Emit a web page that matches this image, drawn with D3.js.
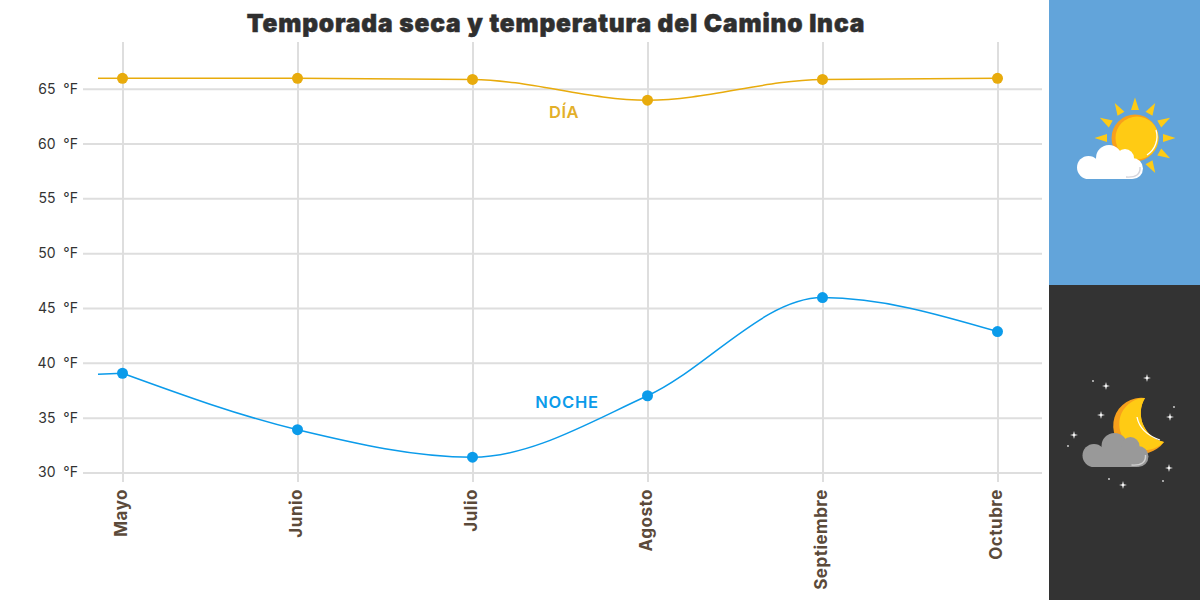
<!DOCTYPE html>
<html>
<head>
<meta charset="utf-8">
<script src="https://cdn.jsdelivr.net/npm/d3@7"></script>
<style>
  html, body { margin: 0; padding: 0; background: #fff; }
  svg { display: block; }
  text { font-family: Inter, "Open Sans", sans-serif; }
  .grid line { stroke: #dedede; stroke-width: 2; }
  .grid .domain { display: none; }
  .y-axis text { font-size: 14px; font-weight: 400; fill: #333; }
  .x-axis text { font-size: 17px; font-weight: 700; fill: #5b4a3a; letter-spacing: 0.5px; }
</style>
</head>
<body>
<svg width="1200" height="600"></svg>
<script>
const months = ['Mayo', 'Junio', 'Julio', 'Agosto', 'Septiembre', 'Octubre'];
const dayValues = [65.95, 65.95, 65.85, 63.95, 65.85, 65.95];
const nightValues = [39.05, 33.9, 31.4, 37, 45.95, 42.85];
// the lines start a little to the left of the first month
const leadIndex = -0.14;
const dayLead = 65.95;
const nightLead = 38.95;
const yTicks = [30, 35, 40, 45, 50, 55, 60, 65];

const dayColor = '#e8ab0c';
const nightColor = '#0b9bea';

const svg = d3.select('svg');

const xScale = d3.scaleLinear().domain([0, months.length - 1]).range([122.5, 997.5]);
const yScale = d3.scaleLinear().domain([30, 65]).range([472.5, 88.7]);

svg.append('text')
  .attr('x', 556)
  .attr('y', 32)
  .attr('text-anchor', 'middle')
  .attr('fill', '#2f2f2f')
  .attr('stroke', '#2f2f2f')
  .attr('stroke-width', 0.5)
  .style('font-size', '24.5px')
  .style('font-weight', 900)
  .style('letter-spacing', '0.85px')
  .text('Temporada seca y temperatura del Camino Inca');

const yAxis = d3.axisLeft(yScale)
  .tickValues(yTicks)
  .tickSize(959)
  .tickPadding(5)
  .tickFormat(d => `${d}\u00a0\u00a0°F`);

svg.append('g')
  .attr('class', 'grid y-axis')
  .attr('transform', 'translate(1042,0)')
  .call(yAxis);

const xAxis = d3.axisBottom(xScale)
  .tickValues(d3.range(months.length))
  .tickSize(-440)
  .tickFormat(i => months[i]);

const xAxisG = svg.append('g')
  .attr('class', 'grid x-axis')
  .attr('transform', 'translate(0,482)')
  .call(xAxis);

xAxisG.selectAll('text')
  .attr('text-anchor', 'end')
  .attr('transform', 'rotate(-90)')
  .attr('x', -7)
  .attr('y', -1)
  .attr('dx', 0)
  .attr('dy', '0.32em');

const line = d3.line()
  .x(d => xScale(d[0]))
  .y(d => yScale(d[1]))
  .curve(d3.curveMonotoneX);

const drawSeries = (values, lead, color) => {
  const points = values.map((v, i) => [i, v]);
  const leadLine = d3.line().x(d => xScale(d[0])).y(d => yScale(d[1]));
  svg.append('path')
    .attr('d', leadLine([[leadIndex, lead], points[0]]))
    .attr('fill', 'none')
    .attr('stroke', color)
    .attr('stroke-width', 1.5);
  svg.append('path')
    .attr('d', line(points))
    .attr('fill', 'none')
    .attr('stroke', color)
    .attr('stroke-width', 1.5);
  svg.append('g').selectAll('circle').data(values).enter().append('circle')
    .attr('cx', (d, i) => xScale(i))
    .attr('cy', d => yScale(d))
    .attr('r', 5.5)
    .attr('fill', color);
};

drawSeries(dayValues, dayLead, dayColor);
drawSeries(nightValues, nightLead, nightColor);

svg.append('text')
  .attr('x', 564).attr('y', 117.5)
  .attr('text-anchor', 'middle')
  .attr('fill', '#e3b02a')
  .style('font-size', '16.5px').style('font-weight', 600).style('letter-spacing', '0.5px')
  .text('DÍA');

svg.append('text')
  .attr('x', 567).attr('y', 407.5)
  .attr('text-anchor', 'middle')
  .attr('fill', nightColor)
  .style('font-size', '16.5px').style('font-weight', 600).style('letter-spacing', '0.8px')
  .text('NOCHE');

// side panel with the two icons
const panel = svg.append('g');
panel.append('rect').attr('x', 1049).attr('y', 0).attr('width', 151).attr('height', 285).attr('fill', '#62a4da');
panel.append('rect').attr('x', 1049).attr('y', 285).attr('width', 151).attr('height', 315).attr('fill', '#333333');

const sun = panel.append('g').attr('transform', 'translate(1135,138)');
d3.range(12).forEach(i => {
  sun.append('path')
    .attr('d', 'M-4,-28 L0,-40.5 L4,-28 Z')
    .attr('fill', '#ffcb14')
    .attr('transform', `rotate(${i * 30})`);
});
sun.append('circle').attr('r', 23.5).attr('fill', '#f8a01c');
sun.append('circle').attr('cx', 2).attr('r', 21.5).attr('fill', '#ffcb14');
sun.append('path')
  .attr('d', 'M21,-8 A22,22 0 0 1 12,17')
  .attr('fill', 'none').attr('stroke', '#fff').attr('stroke-width', 1.3);

const drawCloud = (g, fill, edge) => {
  const bumps = [[1088.5, 167.5, 11.5], [1109, 158, 13], [1125, 158, 9], [1132.5, 168.5, 10.5]];
  g.selectAll('circle').data(bumps).enter().append('circle')
    .attr('cx', d => d[0]).attr('cy', d => d[1]).attr('r', d => d[2]).attr('fill', fill);
  g.append('rect').attr('x', 1089).attr('y', 160).attr('width', 43).attr('height', 19).attr('fill', fill);
  g.append('path')
    .attr('d', 'M1126,177 Q1141,178 1140,167')
    .attr('fill', 'none').attr('stroke', edge).attr('stroke-width', 1.4);
};

drawCloud(panel.append('g'), '#ffffff', '#d5d5dc');

const moon = panel.append('g');
moon.append('path')
  .attr('d', 'M1145,398 A28,28 0 1 0 1164,442 A29.5,29.5 0 0 1 1145,398 Z')
  .attr('fill', '#f8a01c');
moon.append('path')
  .attr('d', 'M1145,398 A26,26 0 1 0 1164,442 A29.5,29.5 0 0 1 1145,398 Z')
  .attr('fill', '#ffcb14');
moon.append('path')
  .attr('d', 'M1137,417 Q1140,433 1160,440')
  .attr('fill', 'none').attr('stroke', '#fff').attr('stroke-width', 1.3);

drawCloud(panel.append('g').attr('transform', 'translate(5.5,288)'), '#999999', '#d0d0d0');

const bigStars = [[1147, 378], [1106, 386], [1101, 415], [1170, 417], [1074, 435], [1169, 468], [1123, 485]];
const smallStars = [[1093, 381], [1174, 407], [1068, 446], [1109, 479], [1163, 481]];
panel.append('g').selectAll('path').data(bigStars).enter().append('path')
  .attr('d', 'M0,-4 L0.8,-0.8 L4,0 L0.8,0.8 L0,4 L-0.8,0.8 L-4,0 L-0.8,-0.8 Z')
  .attr('transform', d => `translate(${d[0]},${d[1]})`)
  .attr('fill', '#fff');
panel.append('g').selectAll('circle').data(smallStars).enter().append('circle')
  .attr('cx', d => d[0]).attr('cy', d => d[1]).attr('r', 0.9)
  .attr('fill', '#ddd');
</script>
</body>
</html>
